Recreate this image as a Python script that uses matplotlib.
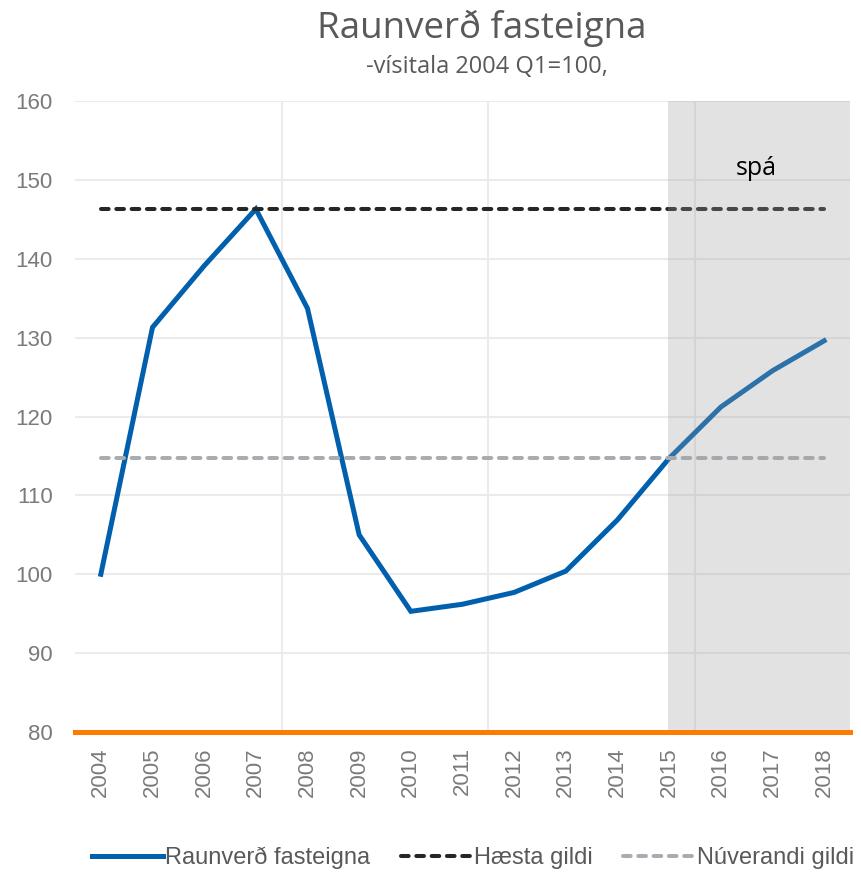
import numpy as np
from matplotlib import pyplot as plt

years = ['2004', '2005', '2006', '2007', '2008', '2009', '2010', '2011',
         '2012', '2013', '2014', '2015', '2016', '2017', '2018']
raunverd = [100.0, 131.3, 139.1, 146.3, 133.7, 105.0, 95.3, 96.2,
            97.7, 100.4, 106.9, 114.7, 121.2, 125.8, 129.6]
haesta = 146.3
nuverandi = 114.7
spa_start = 11  # 2015

plt.rcParams['font.family'] = ['Liberation Sans', 'DejaVu Sans']

fig = plt.figure(figsize=(8.61, 8.73), dpi=100)
ax = fig.add_axes([0.0871, 0.1615, 0.9001, 0.7228])

x = np.arange(len(years))
ax.plot(x, raunverd, color='#0060AE', linewidth=3.6, zorder=3,
        solid_joinstyle='miter', label='Raunverð fasteigna')
ax.plot(x, [haesta] * len(x), color='#262626', linewidth=2.9,
        dashes=(1.9, 1.9), dash_capstyle='round', zorder=3,
        label='Hæsta gildi')
ax.plot(x, [nuverandi] * len(x), color='#A9ADB2', linewidth=2.9,
        dashes=(1.9, 1.9), dash_capstyle='round', zorder=3,
        label='Núverandi gildi')

# forecast shading drawn on top, semi transparent
ax.axvspan(spa_start - 0.03, len(years) - 0.5, color='#9E9E9E', alpha=0.29,
           lw=0, zorder=4)
ax.text(12.68, 151.5, 'spá', fontsize=18, family=['Open Sans', 'DejaVu Sans'],
        color='#000000', ha='center', va='center', zorder=5)

ax.axhline(80, color='#FF7B00', linewidth=3.6, zorder=5, clip_on=False)

ax.set_xlim(-0.5, len(years) - 0.5)
ax.set_ylim(80, 160)
ax.set_yticks(np.arange(80, 161, 10))
ax.set_xticks(x)
ax.set_xticklabels(years, rotation=90)
ax.set_xticks([3.5, 7.5, 11.5], minor=True)
ax.grid(axis='y', which='major', color='#EBEBEB', linewidth=1.5, zorder=0)
ax.grid(axis='x', which='minor', color='#EBEBEB', linewidth=1.5, zorder=0)
ax.set_axisbelow(True)
ax.tick_params(axis='both', which='both', length=0, labelsize=16,
               labelcolor='#7A7A7A')
ax.tick_params(axis='y', pad=16)
ax.tick_params(axis='x', pad=11)
for s in ax.spines.values():
    s.set_visible(False)

fig.text(0.559, 0.968, 'Raunverð fasteigna', ha='center', va='center',
         fontsize=26.5, color='#595959', family=['Open Sans', 'DejaVu Sans'])
fig.text(0.565, 0.923, '-vísitala 2004 Q1=100,', ha='center', va='center',
         fontsize=17, color='#595959', family=['Open Sans', 'DejaVu Sans'])

leg = fig.legend(loc='center', bbox_to_anchor=(0.549, 0.017), ncol=3,
                 frameon=False, fontsize=17, handlelength=3.0,
                 handletextpad=0.1, columnspacing=1.3)
for t in leg.get_texts():
    t.set_color('#595959')

plt.savefig('out.png', dpi=100)
